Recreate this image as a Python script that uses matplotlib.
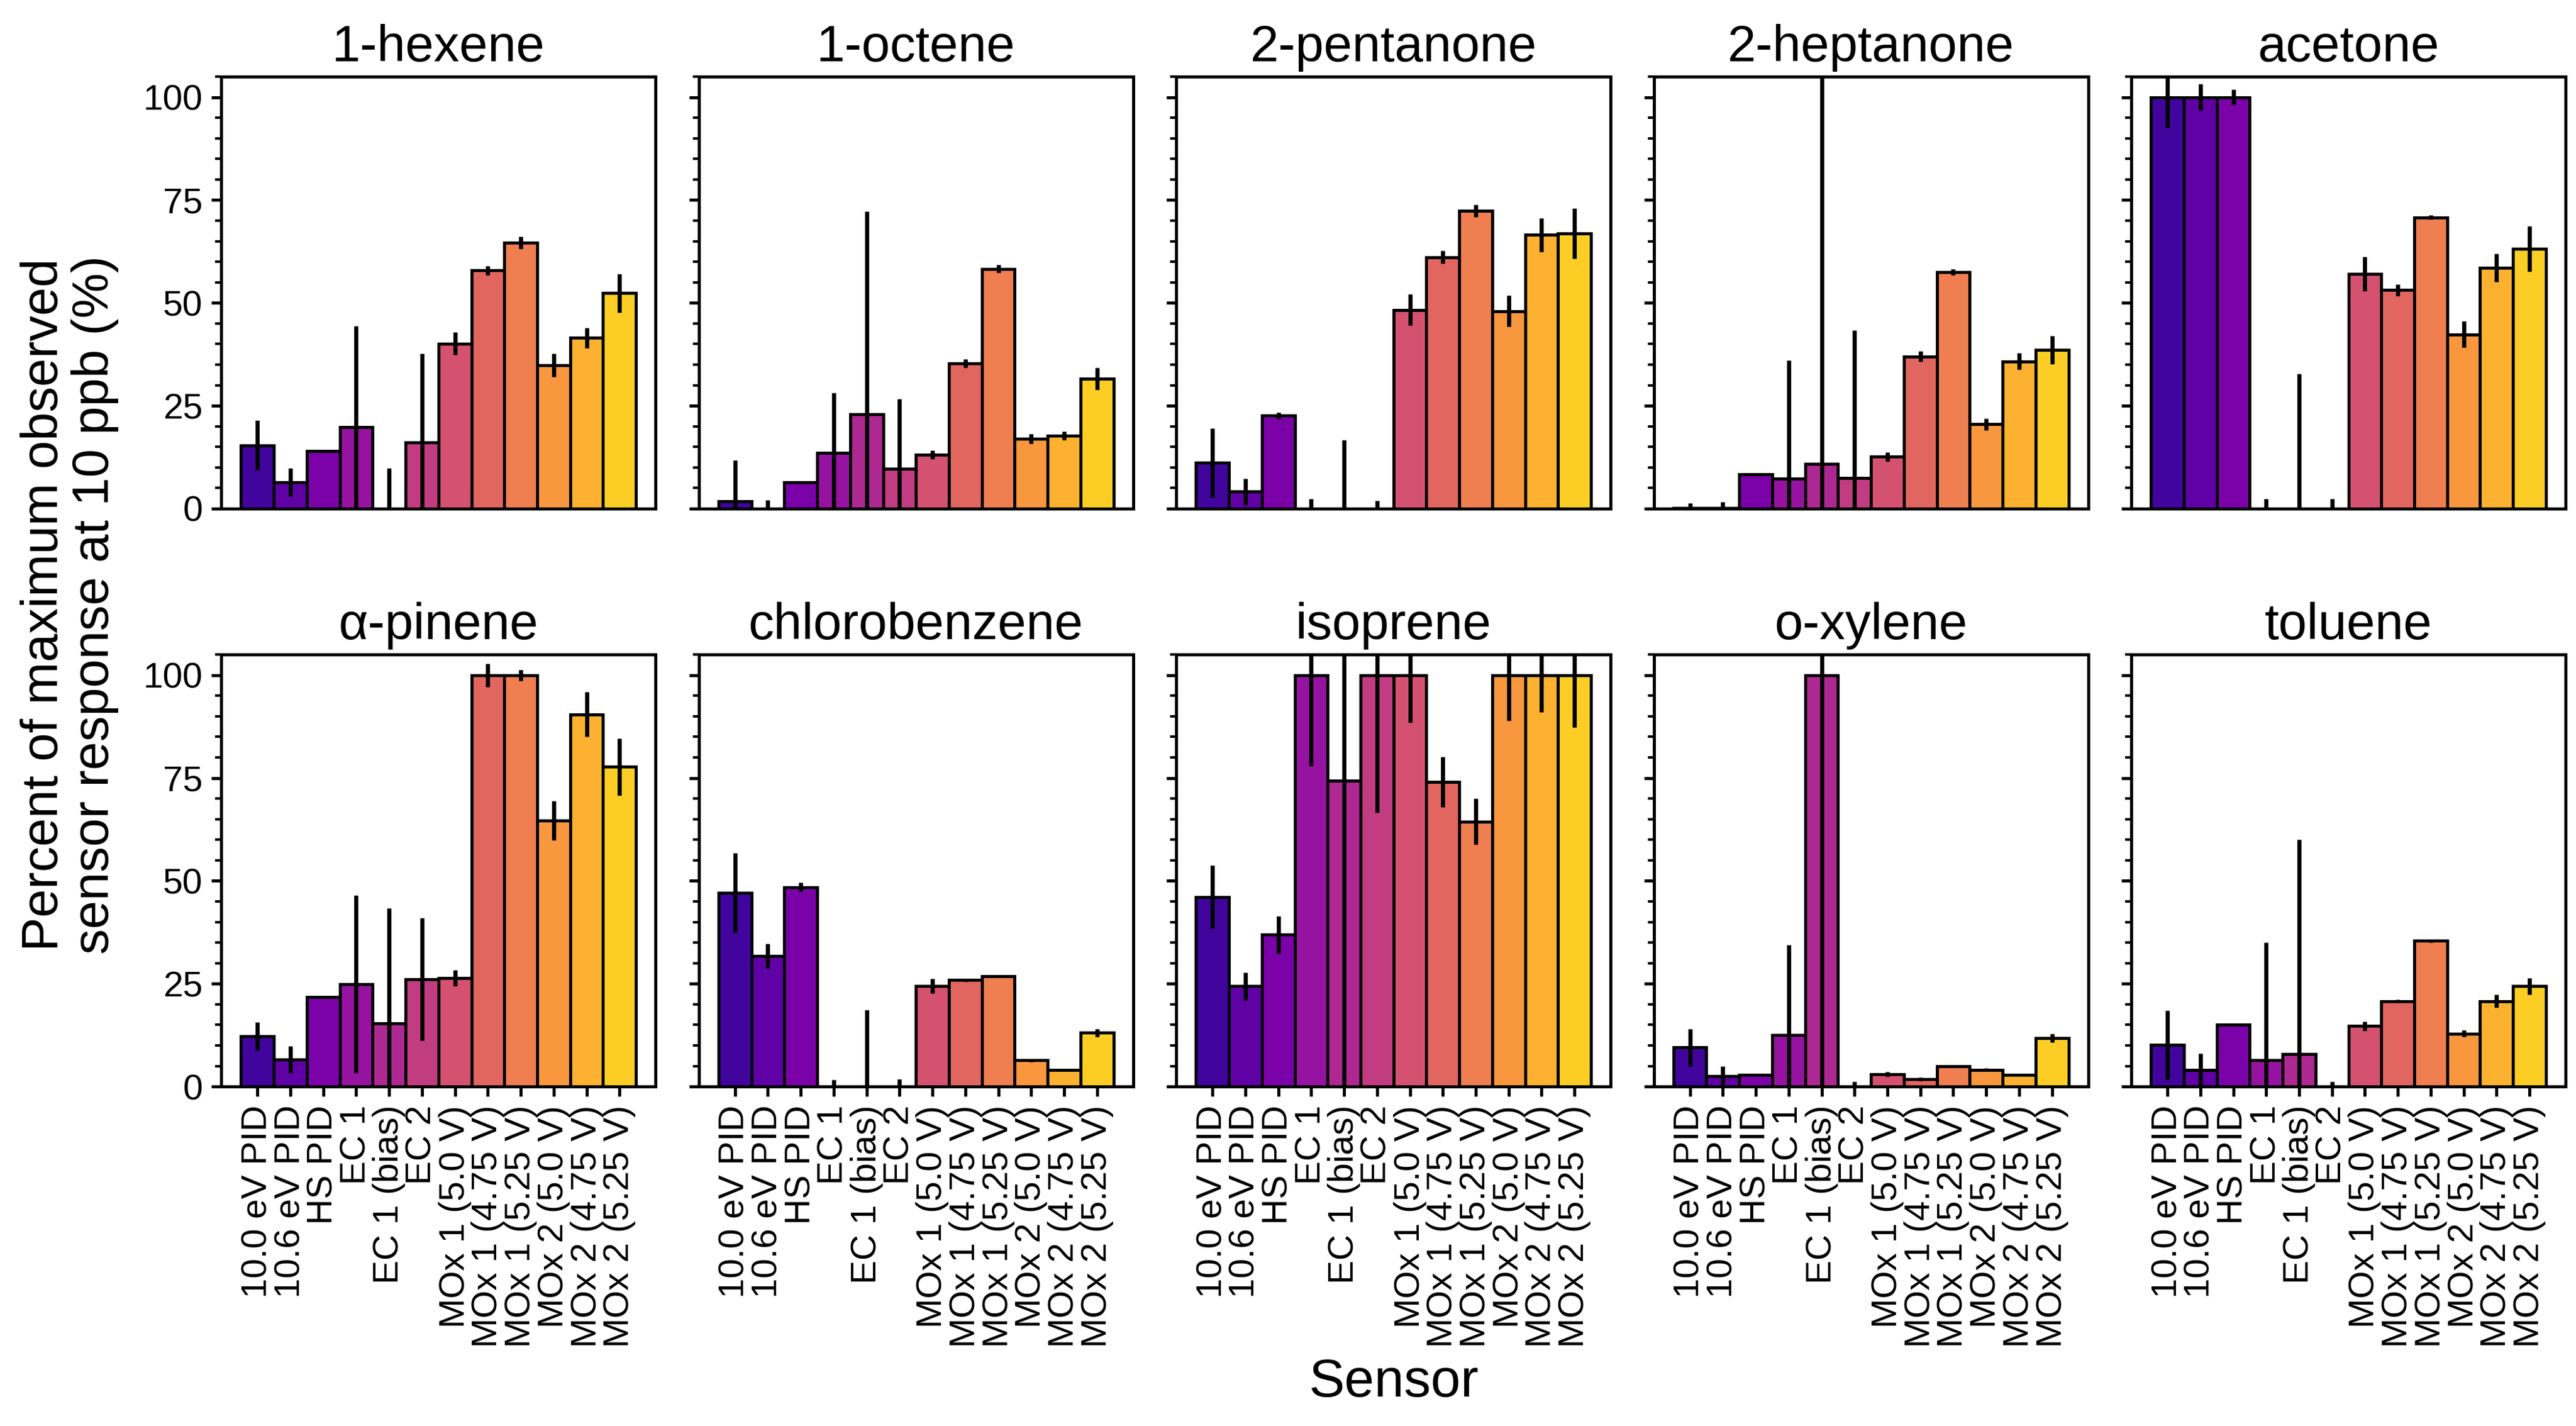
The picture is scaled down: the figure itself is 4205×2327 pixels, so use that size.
import numpy as np
import matplotlib
matplotlib.use("Agg")
import matplotlib.pyplot as plt
from matplotlib.ticker import MultipleLocator

plt.rcParams["font.family"] = ["Liberation Sans", "DejaVu Sans"]

SENSORS = ["10.0 eV PID", "10.6 eV PID", "HS PID", "EC 1", "EC 1 (bias)", "EC 2",
           "MOx 1 (5.0 V)", "MOx 1 (4.75 V)", "MOx 1 (5.25 V)",
           "MOx 2 (5.0 V)", "MOx 2 (4.75 V)", "MOx 2 (5.25 V)"]

COMPOUNDS = ["1-hexene", "1-octene", "2-pentanone", "2-heptanone", "acetone",
             "α-pinene", "chlorobenzene", "isoprene", "o-xylene", "toluene"]

# mean response (% of max) per sensor
hexene_1 = [15.4, 6.4, 14.0, 19.8, 0.0, 16.1, 40.1, 57.9, 64.6, 34.8, 41.5, 52.4]
octene_1 = [1.8, 0.0, 6.4, 13.5, 22.9, 9.6, 13.1, 35.3, 58.3, 17.0, 17.7, 31.6]
pentanone_2 = [11.1, 4.1, 22.6, 0.0, 0.0, 0.0, 48.3, 61.1, 72.4, 48.0, 66.5, 66.8]
heptanone_2 = [0.2, 0.1, 8.3, 7.3, 10.9, 7.5, 12.6, 37.0, 57.5, 20.5, 35.8, 38.6]
acetone = [100.0, 100.0, 100.0, 0.0, 0.0, 0.0, 57.0, 53.1, 70.8, 42.3, 58.5, 63.2]
a_pinene = [12.2, 6.6, 21.7, 24.9, 15.4, 26.1, 26.4, 100.0, 100.0, 64.7, 90.5, 77.7]
chlorobenzene = [47.1, 31.8, 48.5, 0.0, 0.0, 0.0, 24.5, 25.9, 26.8, 6.4, 4.1, 13.1]
isoprene = [46.1, 24.4, 36.9, 100.0, 74.3, 100.0, 100.0, 74.1, 64.4, 100.0, 100.0, 100.0]
o_xylene = [9.5, 2.6, 2.8, 12.5, 100.0, 0.0, 3.0, 1.8, 4.9, 4.1, 2.8, 11.8]
toluene = [10.1, 4.1, 15.1, 6.4, 7.9, 0.0, 14.7, 20.8, 35.4, 12.9, 20.8, 24.4]

# standard deviation per sensor
hexene_1_sd = [6.0, 3.4, 0.2, 24.5, 9.8, 21.6, 2.8, 1.1, 1.5, 2.8, 2.5, 4.7]
octene_1_sd = [9.9, 2.1, 0.1, 14.7, 49.3, 17.1, 1.0, 1.0, 0.9, 1.2, 1.1, 2.7]
pentanone_2_sd = [8.4, 3.2, 0.8, 2.4, 16.7, 1.9, 3.8, 1.6, 1.5, 3.8, 4.1, 6.1]
heptanone_2_sd = [1.2, 1.5, 0.1, 28.8, 100.0, 35.8, 1.1, 1.3, 0.8, 1.4, 2.0, 3.4]
acetone_sd = [7.3, 3.2, 1.9, 2.3, 32.7, 2.3, 4.2, 1.4, 0.5, 3.2, 3.4, 5.5]
a_pinene_sd = [3.4, 3.3, 0.3, 21.6, 28.0, 14.9, 1.9, 2.8, 1.3, 4.8, 5.4, 6.9]
chlorobenzene_sd = [9.7, 3.0, 1.1, 1.7, 18.7, 1.8, 1.8, 0.4, 0.2, 0.4, 0.1, 1.0]
isoprene_sd = [7.7, 3.3, 4.6, 22.1, 80.0, 33.4, 11.5, 6.1, 5.6, 11.0, 8.9, 12.7]
o_xylene_sd = [4.5, 2.3, 0.1, 21.9, 110.0, 1.2, 0.6, 0.4, 0.2, 0.4, 0.1, 1.1]
toluene_sd = [8.4, 3.9, 0.2, 28.6, 52.2, 1.2, 1.1, 0.4, 0.4, 0.8, 1.5, 2.0]

MEANS = [hexene_1, octene_1, pentanone_2, heptanone_2, acetone,
         a_pinene, chlorobenzene, isoprene, o_xylene, toluene]
SDS = [hexene_1_sd, octene_1_sd, pentanone_2_sd, heptanone_2_sd, acetone_sd,
       a_pinene_sd, chlorobenzene_sd, isoprene_sd, o_xylene_sd, toluene_sd]

colors = plt.cm.plasma(np.linspace(0.1, 0.9, len(SENSORS)))
x = np.arange(len(SENSORS))

fig, axes = plt.subplots(2, 5, figsize=(4205 / 300, 2327 / 300), sharey=True, sharex=True)
fig.subplots_adjust(left=0.0859, right=0.996, top=0.9463, bottom=0.238,
                    wspace=0.099, hspace=0.338)

for ax, name, vals, sd in zip(axes.flat, COMPOUNDS, MEANS, SDS):
    ax.bar(x, vals, width=1.0, color=colors, edgecolor="black", linewidth=1.2)
    ax.errorbar(x, vals, yerr=sd, fmt="none", ecolor="black", elinewidth=1.6, capsize=0)
    ax.set_title(name, fontsize=20)
    ax.set_ylim(0, 105)
    ax.yaxis.set_major_locator(MultipleLocator(25))
    ax.yaxis.set_minor_locator(MultipleLocator(5))
    ax.tick_params(axis="both", which="major", labelsize=14, length=3.8, width=1.2)
    ax.tick_params(axis="y", which="minor", length=2.3, width=1.0)
    for s in ax.spines.values():
        s.set_linewidth(1.2)

for ax in axes[1]:
    ax.set_xticks(x)
    ax.set_xticklabels(SENSORS, rotation=90)
for ax in axes[0]:
    ax.tick_params(axis="x", which="both", bottom=False, labelbottom=False)

axes[1, 2].set_xlabel("Sensor", fontsize=21, labelpad=4)
fig.text(0.027, 0.576, "Percent of maximum observed\nsensor response at 10 ppb (%)",
         rotation=90, ha="center", va="center", fontsize=20, linespacing=1.08)

fig.savefig("out.png", dpi=300)
